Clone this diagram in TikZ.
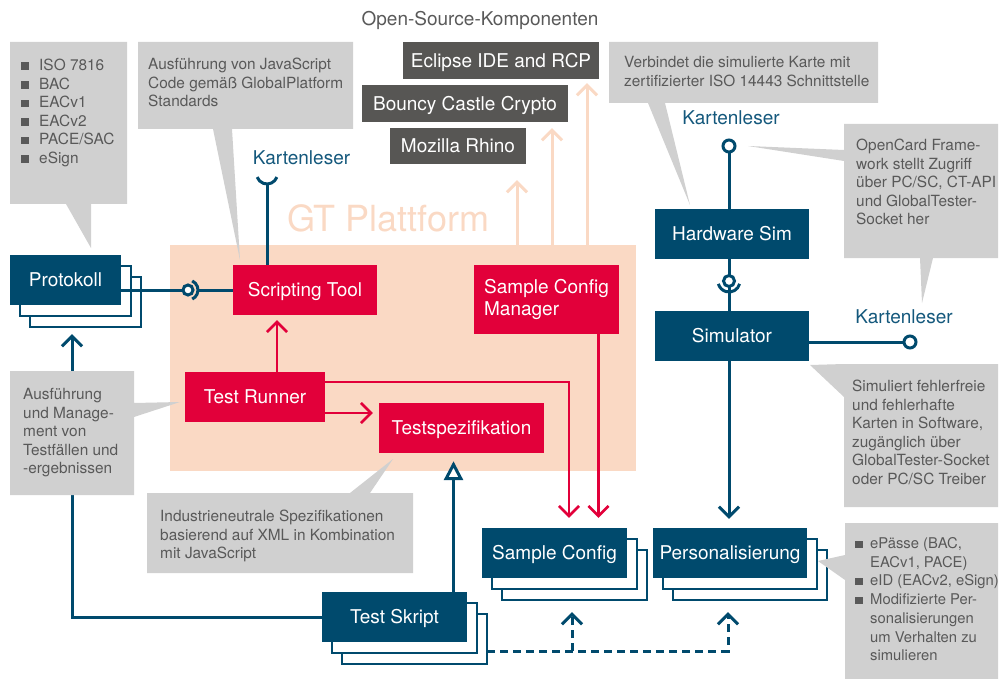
\documentclass[tikz,border=0pt]{standalone}
\usepackage{fontspec}
\setmainfont{TeX Gyre Heros}
\usetikzlibrary{arrows.meta,shadows}
\definecolor{bluC}{HTML}{004A6D}
\definecolor{redC}{HTML}{E2003A}
\definecolor{peach}{HTML}{FAD9C4}
\definecolor{callg}{HTML}{D0D0D0}
\definecolor{txtg}{HTML}{595959}
\definecolor{darkg}{HTML}{575654}
\definecolor{kblue}{HTML}{14587C}
\newcommand{\blt}{\makebox[18pt][l]{\rule[0.5pt]{7.5pt}{7.5pt}}}
\newcommand{\bltp}{\makebox[15pt][l]{\rule[0.5pt]{7.5pt}{7.5pt}}}
\begin{document}
\begin{tikzpicture}[x=1pt,y=-1pt,
  boxtext/.style={text=white, font=\fontsize{19}{22}\selectfont, inner sep=0pt},
  bluebox/.style={boxtext, fill=bluC, minimum height=50pt, text height=13.6pt, text depth=0pt},
  stackbox/.style={bluebox, double copy shadow={shadow xshift=10pt, shadow yshift=-11pt, fill=white, draw=bluC, line width=1.3pt}},
  redbox/.style={boxtext, fill=redC, minimum height=50pt, text height=13.6pt, text depth=0pt},
  osbox/.style={boxtext, fill=darkg, text height=13.6pt, text depth=0pt},
  klabel/.style={text=kblue, font=\fontsize{19}{22}\selectfont, inner sep=0pt},
  ctext/.style={text=txtg, font=\fontsize{15.4}{18.6}\selectfont, anchor=base west, align=left, inner sep=0pt},
  bline/.style={draw=bluC, line width=3pt},
  rline/.style={draw=redC, line width=2.6pt},
  pline/.style={draw=peach, line width=3pt},
  dline/.style={draw=bluC, line width=3pt, dash pattern=on 8pt off 5pt},
  chev/.style={-{Straight Barb[length=10pt,width=20pt]}},
]
\useasboundingbox (0,0) rectangle (1001,679);

% GT platform background
\node[fill=peach, minimum width=466pt, minimum height=226pt, inner sep=0pt] (gt) at (403,358) {};
\node[anchor=base west, text=peach, font=\fontsize{36}{40}\selectfont, inner sep=0pt] (gttitle) at (287,232) {GT Plattform};

% open source components
\node[anchor=base, text=txtg, font=\fontsize{19}{22}\selectfont, inner sep=0pt] (osc) at (480,26) {Open-Source-Komponenten};
\node[osbox, minimum width=196pt, minimum height=37pt] (ecl) at (501,60.5) {Eclipse IDE and RCP};
\node[osbox, minimum width=206pt, minimum height=37pt] (bc) at (465,103.5) {Bouncy Castle Crypto};
\node[osbox, minimum width=136pt, minimum height=36pt] (rh) at (458,146) {Mozilla Rhino};

% boxes
\node[stackbox, minimum width=111pt] (prot) at (65.5,280) {Protokoll};
\node[redbox, minimum width=144pt] (st) at (305,290) {Scripting Tool};
\node[boxtext, fill=redC, minimum width=145pt, minimum height=69pt, align=left] (scm) at (546.5,299.5) {Sample Config\\Manager};
\node[redbox, minimum width=140pt] (tr) at (255,397) {Test Runner};
\node[redbox, minimum width=165pt] (ts) at (461.5,428) {Testspezifikation};
\node[stackbox, minimum width=145pt] (sc) at (554.5,553) {Sample Config};
\node[stackbox, minimum width=154pt] (pers) at (730,553) {Personalisierung};
\node[stackbox, minimum width=145pt] (tsk) at (394.5,617) {Test Skript};
\node[bluebox, minimum width=154pt] (hw) at (732,234) {Hardware Sim};
\node[bluebox, minimum width=154pt] (sim) at (732,336) {Simulator};

% Kartenleser labels
\node[klabel] (k1) at (301.5,158) {Kartenleser};
\node[klabel] (k2) at (731,118) {Kartenleser};
\node[klabel] (k3) at (904,317) {Kartenleser};

% peach arrows
\coordinate (pa1) at (517,0);
\coordinate (pa2) at (552,0);
\coordinate (pa3) at (587,0);
\draw[pline, chev, shorten >=16pt] (gt.north -| pa1) -- (rh.south -| pa1);
\draw[pline, chev, shorten >=6pt] (gt.north -| pa2) -- (bc.south -| pa2);
\draw[pline, chev, shorten >=4pt] (gt.north -| pa3) -- (ecl.south -| pa3);

% Scripting tool card reader socket
\coordinate (xk1) at (267,184);
\draw[bline] (st.north -| xk1) -- (xk1);
\draw[bline] (267,173.5) ++(20:10.5) arc[start angle=20, end angle=160, radius=10.5];

% Protokoll - Scripting Tool
\coordinate (b1) at (188,290);
\draw[bline] (st.west -| prot.east) -- ([xshift=-5pt]b1);
\draw[bline] ([xshift=10pt]b1) -- (st.west);
\draw[bline, fill=white] (b1) circle[radius=5];
\draw[bline] (b1) ++(-65:10) arc[start angle=-65, end angle=65, radius=10];

% Hardware Sim / Simulator
\coordinate (b2) at (729,146);
\draw[bline] (hw.north -| b2) -- (b2);
\draw[bline, fill=white] (b2) circle[radius=6];
\coordinate (b3) at (729,281);
\draw[bline] (hw.south -| b3) -- (sim.north -| b3);
\draw[bline, fill=white] (b3) circle[radius=5.5];
\draw[bline] (b3) ++(15:11) arc[start angle=15, end angle=165, radius=11];
\coordinate (b4) at (910,342);
\draw[bline] (b4 -| sim.east) -- (b4);
\draw[bline, fill=white] (b4) circle[radius=6];
\draw[bline, chev, shorten >=9pt] (sim.south -| b2) -- (pers.north -| b2);

% red connectors
\draw[rline, chev, shorten >=5pt] ([xshift=22pt]tr.north) -- ([xshift=-28pt]st.south);
\draw[rline, chev, shorten >=6pt] ([yshift=-16pt]tr.east) -- ([yshift=15pt]ts.west);
\draw[rline, chev, shorten >=10pt] ([yshift=15pt]tr.east) -| ([xshift=14.5pt]sc.north);
\draw[rline, chev, shorten >=10pt] ([xshift=52pt]scm.south) -- ([xshift=44pt]sc.north);

% blue connectors from Test Skript
\draw[bline, -{Triangle[fill=white, length=19pt, width=19pt]}, shorten >=8pt] ([xshift=59pt]tsk.north) -- ([xshift=-8pt]ts.south);
\draw[bline, chev, shorten >=29pt] (tsk.west) -| ([xshift=6.5pt]prot.south);
\coordinate (dj) at (572,651);
\draw[dline, chev, shorten >=34pt] ([xshift=20pt,yshift=-34pt]tsk.east) -| ([xshift=-2pt]pers.south);
\draw[dline, chev, shorten >=34pt] (dj) -- (sc.south -| dj);

% callouts (text anchored at the baseline of the last line)
\fill[callg] (10,42) -- (127,42) -- (127,204) -- (91,204) -- (91,248) -- (66,204) -- (10,204) -- cycle;
\node[ctext] (c1) at (21,163.5) {\blt ISO 7816\\\blt BAC\\\blt EACv1\\\blt EACv2\\\blt PACE/SAC\\\blt eSign};

\fill[callg] (138,42) -- (353,42) -- (353,129) -- (232,129) -- (240,260) -- (213,129) -- (138,129) -- cycle;
\node[ctext] (c2) at (148,106.7) {Ausführung von JavaScript\\Code gemäß GlobalPlatform\\Standards};

\fill[callg] (609,42) -- (878,42) -- (878,103) -- (665,103) -- (690,205) -- (648,103) -- (609,103) -- cycle;
\node[ctext] (c3) at (624,86.1) {Verbindet die simulierte Karte mit\\zertifizierter ISO 14443 Schnittstelle};

\fill[callg] (844,124) -- (998,124) -- (998,258) -- (933,258) -- (922,303) -- (920,258) -- (844,258) -- (844,161) -- (748,146) -- (844,150) -- cycle;
\node[ctext] (c4) at (856,224.9) {OpenCard Frame-\\work stellt Zugriff\\über PC/SC, CT-API\\und GlobalTester-\\Socket her};

\fill[callg] (810,365) -- (844,364) -- (998,364) -- (998,507) -- (844,507) -- (844,397) -- cycle;
\node[ctext] (c5) at (852,484.5) {Simuliert fehlerfreie\\und fehlerhafte\\Karten in Software,\\zugänglich über\\GlobalTester-Socket\\oder PC/SC Treiber};

\fill[callg] (10,371) -- (134,371) -- (134,403) -- (180,402) -- (134,417) -- (134,495) -- (10,495) -- cycle;
\node[ctext] (c6) at (23,473.9) {Ausführung\\und Manage-\\ment von\\Testfällen und\\-ergebnissen};

\fill[callg] (147,493) -- (350,493) -- (393,459) -- (370,493) -- (413,493) -- (413,573) -- (147,573) -- cycle;
\node[ctext] (c7) at (160,558.7) {Industrieneutrale Spezifikationen\\basierend auf XML in Kombination\\mit JavaScript};

\fill[callg] (845,523) -- (998,523) -- (998,679) -- (845,679) -- (845,580) -- (818,561) -- (845,555) -- cycle;
\node[ctext, font=\fontsize{14.8}{18.7}\selectfont] (c8) at (855,660.7) {\bltp ePässe (BAC,\\\hspace*{15pt}EACv1, PACE)\\\bltp eID (EACv2, eSign)\\\bltp Modifizierte Per-\\\hspace*{15pt}sonalisierungen\\\hspace*{15pt}um Verhalten zu\\\hspace*{15pt}simulieren};
\end{tikzpicture}
\end{document}
